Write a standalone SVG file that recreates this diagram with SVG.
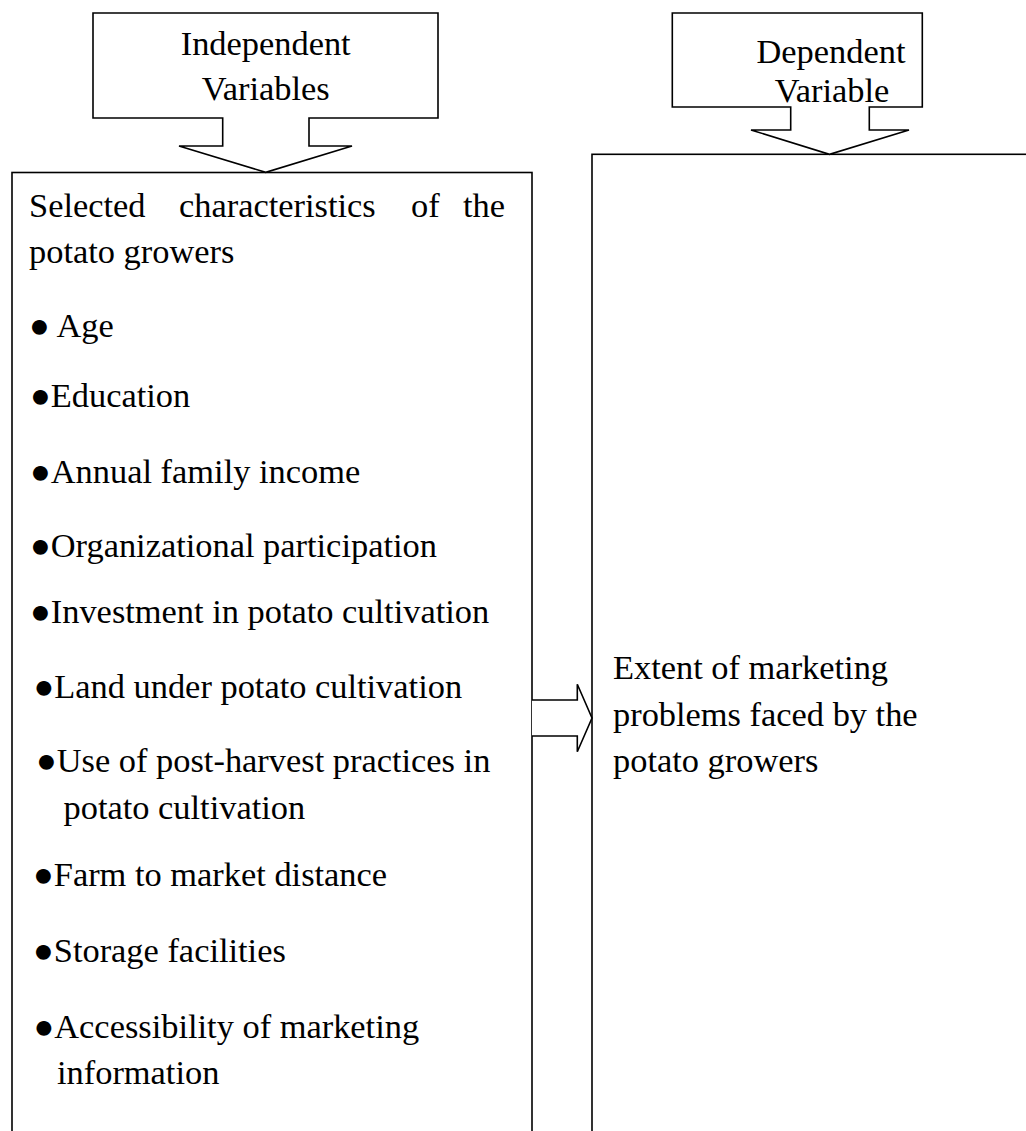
<svg xmlns="http://www.w3.org/2000/svg" width="1026" height="1131" viewBox="0 0 1026 1131">
<style>
  .ln{fill:none;stroke:#000;stroke-width:1.6;stroke-linejoin:miter}
  .sh{fill:#fff;stroke:#000;stroke-width:1.6;stroke-linejoin:miter}
  text{font-family:"Liberation Serif","Times New Roman",serif;font-size:34.4px;fill:#000}
  .c{text-anchor:middle}
</style>
<rect x="0" y="0" width="1026" height="1131" fill="#fff"/>
<g id="independent-box">
  <rect class="ln" x="12" y="172.5" width="520" height="980"/>
  <text><tspan x="29" y="217">Selected</tspan><tspan x="179" y="217">characteristics</tspan><tspan x="411" y="217">of</tspan><tspan x="463" y="217">the</tspan></text>
  <text x="29" y="263">potato growers</text>
  <text x="29" y="337">● Age</text>
  <text x="30" y="407">●Education</text>
  <text x="30" y="483">●Annual family income</text>
  <text x="30" y="557">●Organizational participation</text>
  <text x="30" y="623">●Investment in potato cultivation</text>
  <text x="33.5" y="698">●Land under potato cultivation</text>
  <text x="36" y="772">●Use of post-harvest practices in</text>
  <text x="63.5" y="819">potato cultivation</text>
  <text x="33" y="886">●Farm to market distance</text>
  <text x="33" y="962">●Storage facilities</text>
  <text x="33.5" y="1038">●Accessibility of marketing</text>
  <text x="57" y="1084">information</text>
</g>
<g id="dependent-box">
  <rect class="ln" x="592" y="154.3" width="440" height="1000"/>
  <text x="613" y="679">Extent of marketing</text>
  <text x="613" y="726">problems faced by the</text>
  <text x="613" y="772">potato growers</text>
</g>
<g id="independent-label">
  <path class="sh" d="M93,13 H438 V118 H309 V146 H352 L265.7,172.3 L179,146 H222.7 V118 H93 Z"/>
  <text class="c" x="265.7" y="55">Independent</text>
  <text class="c" x="265.7" y="100">Variables</text>
</g>
<g id="dependent-label">
  <path class="sh" d="M672.3,13 H922.3 V107 H869.3 V130 H909 L829.5,154.3 L751,130 H790.7 V107 H672.3 Z"/>
  <text class="c" x="831" y="63">Dependent</text>
  <text class="c" x="832" y="102">Variable</text>
</g>
<g id="connectors">
  <path class="sh" d="M532,700 H577.3 V684.3 L592,718 L577.3,751.7 V736 H532"/>
</g>
</svg>
